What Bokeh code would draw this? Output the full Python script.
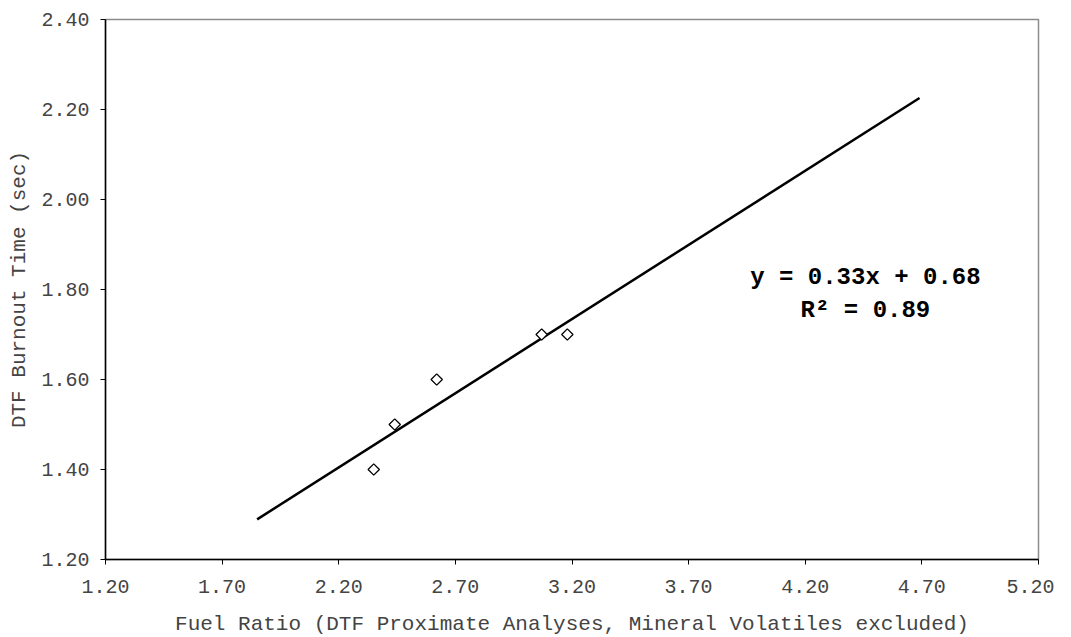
import numpy as np
from bokeh.plotting import figure
from bokeh.models import FixedTicker, NumeralTickFormatter, Label, Range1d
from bokeh.embed import file_html
from bokeh.resources import INLINE

# ---- data ----
fuel_ratio = [2.35, 2.44, 2.62, 3.07, 3.18]
burnout_time = [1.40, 1.50, 1.60, 1.70, 1.70]
trend_extent = [1.85, 4.69]          # x-extent of the linear trendline
x_ticks = [1.20, 1.70, 2.20, 2.70, 3.20, 3.70, 4.20, 4.70, 5.20]
y_ticks = [1.20, 1.40, 1.60, 1.80, 2.00, 2.20, 2.40]
x_label = "Fuel Ratio (DTF Proximate Analyses, Mineral Volatiles excluded)"
y_label = "DTF Burnout Time (sec)"

slope, intercept = np.polyfit(fuel_ratio, burnout_time, 1)
pred = np.polyval([slope, intercept], fuel_ratio)
r2 = 1 - np.sum((np.array(burnout_time) - pred) ** 2) / np.sum((np.array(burnout_time) - np.mean(burnout_time)) ** 2)
trend_y = [slope * v + intercept for v in trend_extent]
eq_text = "y = %.2fx + %.2f" % (slope, intercept)
r2_text = "R\u00b2 = %.2f" % r2

FONT = "Liberation Mono"
TXT = "#444444"

p = figure(frame_width=933, frame_height=540,
           x_range=Range1d(1.2, 5.2), y_range=Range1d(1.2, 2.4),
           output_backend="svg", toolbar_location=None,
           min_border_left=105, min_border_top=19, min_border_right=16, min_border_bottom=75,
           background_fill_color="white", border_fill_color="white")
p.outline_line_color = "#8c8c8c"
p.outline_line_width = 1.5
p.xgrid.visible = False
p.ygrid.visible = False

for ax, ticks in ((p.xaxis[0], x_ticks), (p.yaxis[0], y_ticks)):
    ax.ticker = FixedTicker(ticks=ticks)
    ax.formatter = NumeralTickFormatter(format="0.00")
    ax.minor_tick_line_color = None
    ax.major_tick_in = 0
    ax.major_tick_out = 5
    ax.axis_line_color = "black"
    ax.axis_line_width = 1.5
    ax.major_tick_line_color = "black"
    ax.major_tick_line_width = 1
    ax.major_label_text_font = FONT
    ax.major_label_text_font_size = "20px"
    ax.major_label_text_color = TXT
    ax.axis_label_text_font = FONT
    ax.axis_label_text_font_size = "21px"
    ax.axis_label_text_font_style = "normal"
    ax.axis_label_text_color = TXT

p.xaxis.axis_label = x_label
p.yaxis.axis_label = y_label
p.xaxis.major_label_standoff = 15
p.xaxis.axis_label_standoff = 17
p.yaxis.major_label_standoff = 11
p.yaxis.axis_label_standoff = 7

p.line(trend_extent, trend_y, line_color="black", line_width=2.5)
p.scatter(fuel_ratio, burnout_time, marker="square", angle=np.pi / 4, size=8,
          fill_color="white", line_color="black", line_width=1.3)

p.add_layout(Label(x=4.458, y=1.827, text=eq_text, text_font=FONT, text_font_size="24px",
                   text_font_style="bold", text_align="center", text_baseline="middle",
                   text_color="black"))
p.add_layout(Label(x=4.458, y=1.753, text=r2_text, text_font=FONT, text_font_size="24px",
                   text_font_style="bold", text_align="center", text_baseline="middle",
                   text_color="black"))

open("out.html", "w").write(file_html(p, INLINE))
